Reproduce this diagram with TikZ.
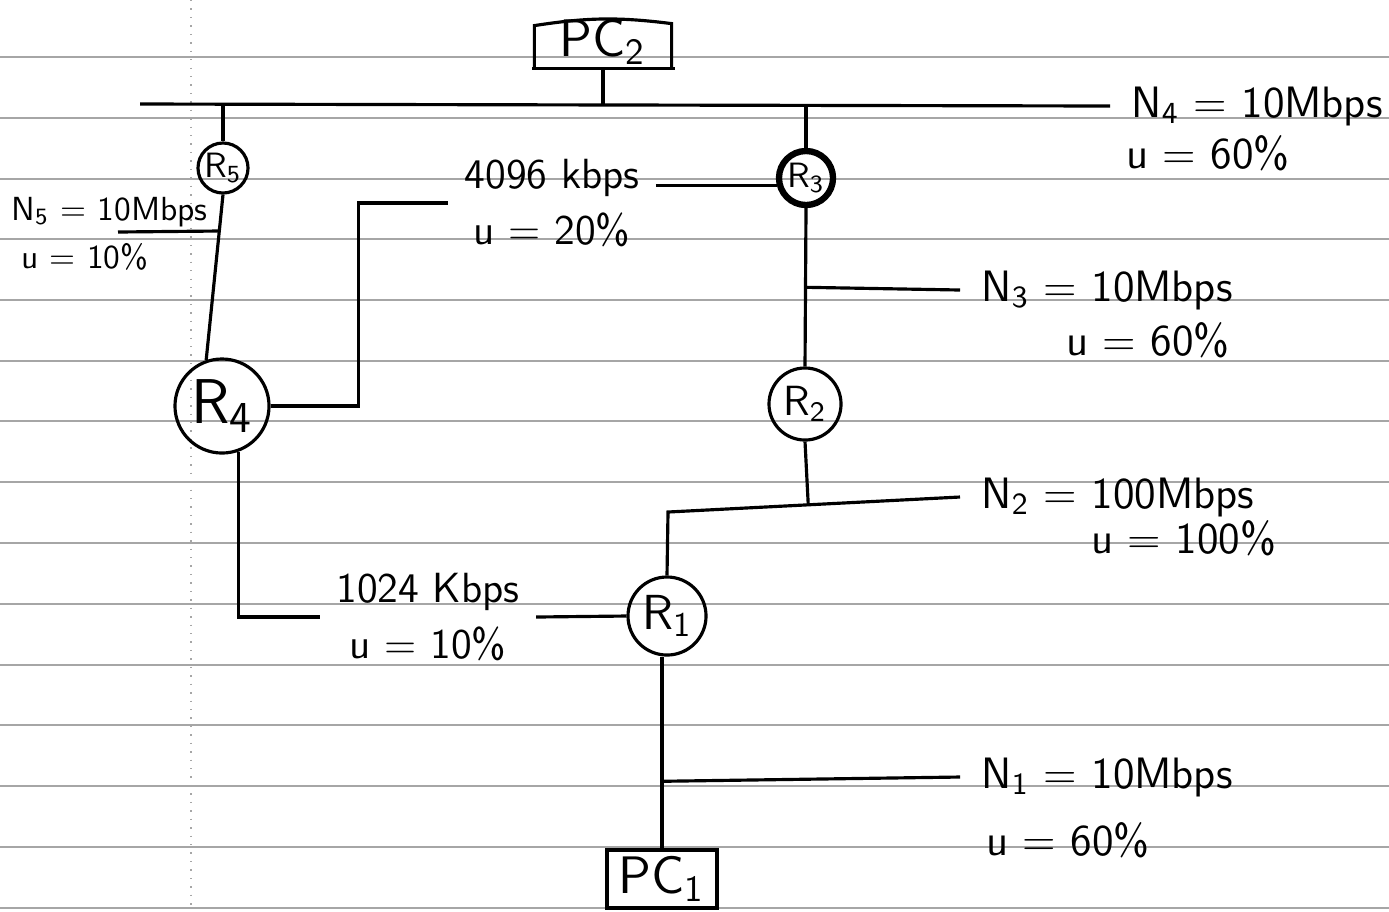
\documentclass[tikz,border=0pt]{standalone}
\usetikzlibrary{positioning, calc}
\tikzset{
  every picture/.style={font=\sffamily, line width=0.9pt},
  router/.style={draw, circle, inner sep=0pt, minimum size=#1},
  router/.default=6mm,
  pcbox/.style={rectangle, inner sep=0pt, font=\sffamily\fontsize{15}{15}\selectfont},
  rule/.style={draw=gray!70, line width=0.4pt},
  note/.style={anchor=west, inner xsep=2mm, inner ysep=1pt, font=\sffamily\fontsize{12.5}{12.5}\selectfont},
  small/.style={font=\sffamily\fontsize{9.5}{9.5}\selectfont},
  linklabel/.style={align=center, inner xsep=1.5mm, inner ysep=1pt, font=\sffamily\fontsize{12}{12}\selectfont},
}

\begin{document}
\begin{tikzpicture}[x=0.01cm, y=-0.01cm]
  \useasboundingbox (0,0) rectangle (1389,911);
  % ---------- lined paper ----------
  \foreach \y in {57,118,179,239,300,361,421,482,543,604,665,725,786,847,908}
    \draw[rule] (0,\y) -- (1389,\y);
  \draw[rule, dotted] (191,0) -- (191,911);

  % ---------- hosts and routers ----------
  \node[pcbox, minimum width=13.4mm, minimum height=5mm] (pctwo) at (603,42) {PC\textsubscript{2}};
  \node[pcbox, draw, minimum width=11mm, minimum height=5.8mm] (pcone) at (662,879) {PC\textsubscript{1}};
  \node[router=5mm, font=\sffamily\fontsize{10}{10}\selectfont] (rfive) at (223,168) {R\textsubscript{5}};
  \node[router=5.4mm, line width=1.8pt, font=\sffamily\fontsize{10}{10}\selectfont] (rthree) at (806,178) {R\textsubscript{3}};
  \node[router=7.2mm, font=\sffamily\fontsize{12}{12}\selectfont] (rtwo) at (805,404) {R\textsubscript{2}};
  \node[router=7.8mm, font=\sffamily\fontsize{14}{14}\selectfont] (rone) at (667,616) {R\textsubscript{1}};
  \node[router=9.4mm, font=\sffamily\fontsize{18}{18}\selectfont] (rfour) at (222,406) {R\textsubscript{4}};
  \draw (pctwo.south west) -- ++(0,-43) to[bend left=8] ($(pctwo.south east)+(0,-45)$) -- (pctwo.south east);
  \draw ($(pctwo.south west)+(-2,0)$) -- ($(pctwo.south east)+(3,0)$);

  % ---------- network labels ----------
  \node[note] (nfourlab) at (1110,106) {N\textsubscript{4} = 10Mbps};
  \node[note] (nfouruse) at (1105,153) {u = 60\%};
  \node[note] (nthreelab) at (960,290) {N\textsubscript{3} = 10Mbps};
  \node[note] (nthreeuse) at (1045,340) {u = 60\%};
  \node[note] (ntwolab) at (960,497) {N\textsubscript{2} = 100Mbps};
  \node[note] (ntwouse) at (1070,538) {u = 100\%};
  \node[note] (nonelab) at (960,777) {N\textsubscript{1} = 10Mbps};
  \node[note] (noneuse) at (965,840) {u = 60\%};
  \node[note, small] (nfivelab) at (-10,212) {N\textsubscript{5} = 10Mbps};
  \node[note, small] (nfiveuse) at (0,257) {u = 10\%};
  \node[linklabel] (lkfour) at (552,203) {4096 kbps\\[4pt]u = 20\%};
  \node[linklabel] (lkone) at (428,617) {1024 Kbps\\[4pt]u = 10\%};

  % ---------- N4 bus ----------
  \coordinate (busleft) at (140,104);
  \draw (busleft) -- (nfourlab.west);
  \draw (pctwo.south) -- (pctwo.south |- busleft);
  \draw (rfive.north) -- (rfive.north |- busleft);
  \draw (rthree.north) -- (rthree.north |- busleft);

  % ---------- links ----------
  \draw (rfive.south) -- (rfour.109);
  \coordinate (nfivetap) at ($(rfive.south)!0.22!(rfour.109)$);
  \coordinate (nfiveend) at (118,232);
  \draw (nfivetap) -- (nfiveend);
  \draw (rfour.east) -- ++(88,0) |- (lkfour.west);
  \draw (lkfour.east |- rthree.195) -- (rthree.195);
  \draw (rfour.290) |- (lkone.west);
  \draw (lkone.east) -- (rone.west);
  \draw (rthree.south) -- (rtwo.north);
  \coordinate (nthreetap) at ($(rthree.south)!0.5!(rtwo.north)$);
  \draw (nthreetap) -- (nthreelab.west);
  \coordinate (ntwoknee) at (668,512);
  \draw (rone.north) -- (ntwoknee) -- (ntwolab.west);
  \draw (rtwo.south) -- ($(ntwoknee)!(rtwo.south)!(ntwolab.west)$);
  \draw (pcone.north) -- (pcone.north |- rone.south);
  \coordinate (nonetap) at ($(pcone.north)!0.35!(pcone.north |- rone.south)$);
  \draw (nonetap) -- (nonelab.west);
\end{tikzpicture}
\end{document}
